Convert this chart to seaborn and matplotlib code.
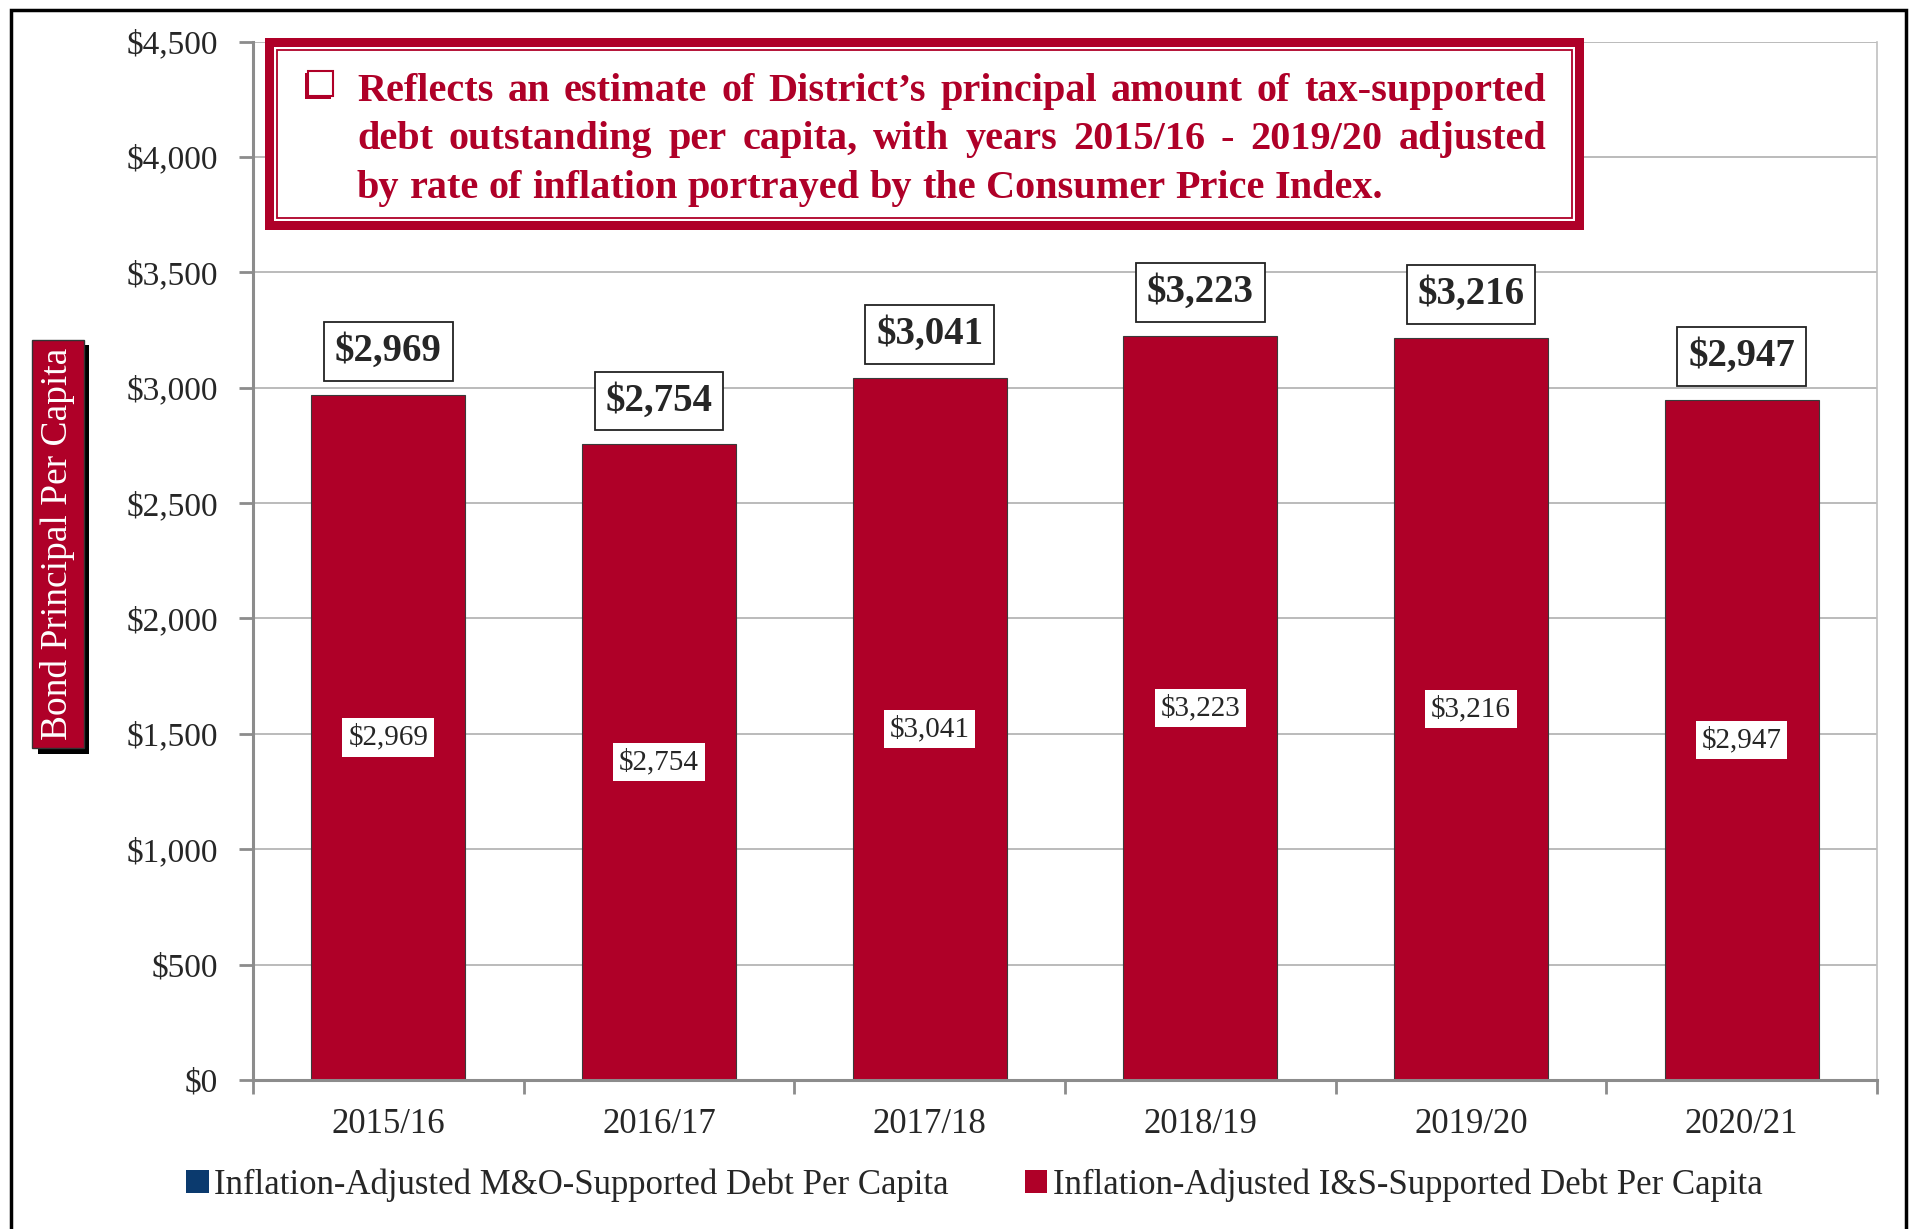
import matplotlib
matplotlib.use('Agg')
import matplotlib.pyplot as plt
import seaborn as sns
import pandas as pd
from matplotlib.patches import Rectangle, Patch
from matplotlib import patheffects as pe
from matplotlib.ticker import FuncFormatter, FixedLocator

# chart data
years = ['2015/16', '2016/17', '2017/18', '2018/19', '2019/20', '2020/21']
is_debt = [2969, 2754, 3041, 3223, 3216, 2947]
mo_debt = [0, 0, 0, 0, 0, 0]
y_ticks = [0, 500, 1000, 1500, 2000, 2500, 3000, 3500, 4000, 4500]
legend_labels = ['Inflation-Adjusted M&O-Supported Debt Per Capita',
                 'Inflation-Adjusted I&S-Supported Debt Per Capita']
y_label = 'Bond Principal Per Capita'
note_lines = [
    'Reflects an estimate of District\u2019s principal amount of tax-supported',
    'debt outstanding per capita, with years 2015/16 - 2019/20 adjusted',
    'by rate of inflation portrayed by the Consumer Price Index.',
]

CRIMSON = '#AF0028'
NAVY = '#0B3A6E'
W, H = 1915, 1229


def fx(px):
    return px / W


def fy(py):
    return 1 - py / H


sns.set_style('white')
plt.rcParams['font.family'] = ['Liberation Serif', 'DejaVu Serif']

fig = plt.figure(figsize=(W / 100, H / 100), dpi=100)
ax = fig.add_axes([fx(253), fy(1080), fx(1877) - fx(253), fy(41.5) - fy(1080)])

df = pd.DataFrame({'year': years, 'is_debt': is_debt})
sns.barplot(data=df, x='year', y='is_debt', color=CRIMSON, saturation=1,
            width=0.57, edgecolor='#3a3a3a', linewidth=0.8, ax=ax)

bars = ax.containers[0]
labels = [f'${v:,}' for v in is_debt]
ax.bar_label(bars, labels=labels, label_type='center', fontsize=21,
             bbox=dict(boxstyle='square,pad=0.2', fc='white', ec='none'))
ax.bar_label(bars, labels=labels, padding=18, fontsize=28, fontweight='bold',
             bbox=dict(boxstyle='square,pad=0.28', fc='white', ec='#222222', lw=1.3))

# axes styling
ax.set_ylim(0, 4500)
ax.set_xlim(-0.5, 5.5)
ax.yaxis.set_major_locator(FixedLocator(y_ticks))
ax.yaxis.set_major_formatter(FuncFormatter(lambda v, p: f'${v:,.0f}'))
ax.grid(axis='y', color='#b5b5b5', lw=1.3)
ax.set_axisbelow(True)
ax.tick_params(axis='y', left=True, length=10, width=2, color='#8c8c8c',
               pad=15, labelsize=24)
ax.tick_params(axis='x', which='major', bottom=False, length=0, pad=20, labelsize=25)
ax.set_xticks([i - 0.5 for i in range(7)], minor=True)
ax.tick_params(axis='x', which='minor', bottom=True, length=10, width=2, color='#8c8c8c')
ax.set_xlabel('')
ax.set_ylabel('')
for side in ['left', 'bottom']:
    ax.spines[side].set_color('#8c8c8c')
    ax.spines[side].set_linewidth(2.2)
ax.spines['right'].set_color('#c0c0c0')
ax.spines['right'].set_linewidth(1.2)
ax.spines['top'].set_visible(False)

# y axis label in a red box with shadow
ylab = fig.text(fx(58), fy(544), y_label, rotation=90, color='white', fontsize=27,
                ha='center', va='center',
                bbox=dict(boxstyle='square,pad=0.22', fc=CRIMSON, ec='#333333', lw=1))
ylab.get_bbox_patch().set_path_effects([
    pe.SimplePatchShadow(offset=(4, -4), shadow_rgbFace='black', alpha=1.0),
    pe.Normal()])

# note box with double red border
bx0, bx1, by0, by1 = 265, 1584, 38, 230
fig.patches.append(Rectangle((fx(bx0), fy(by1)), fx(bx1) - fx(bx0), fy(by0) - fy(by1),
                             transform=fig.transFigure, fc=CRIMSON, ec='none', zorder=5))
fig.patches.append(Rectangle((fx(bx0 + 9), fy(by1 - 9)), fx(bx1 - 9) - fx(bx0 + 9),
                             fy(by0 + 9) - fy(by1 - 9),
                             transform=fig.transFigure, fc='white', ec='none', zorder=5))
fig.patches.append(Rectangle((fx(bx0 + 12), fy(by1 - 12)), fx(bx1 - 12) - fx(bx0 + 12),
                             fy(by0 + 12) - fy(by1 - 12),
                             transform=fig.transFigure, fc='none', ec=CRIMSON, lw=1.3, zorder=5))

# bullet square with shadow
fig.patches.append(Rectangle((fx(305), fy(99)), fx(331) - fx(305), fy(73) - fy(99),
                             transform=fig.transFigure, fc=CRIMSON, ec='none', zorder=6))
fig.patches.append(Rectangle((fx(308), fy(96)), fx(333) - fx(308), fy(71) - fy(96),
                             transform=fig.transFigure, fc='white', ec=CRIMSON, lw=1.5, zorder=7))

# justified note text
renderer = fig.canvas.get_renderer()
note_size = 29
baselines = [101, 149, 198]
tx0, tx1 = 357, 1546
for i, line in enumerate(note_lines):
    words = line.split(' ')
    texts = [fig.text(0, fy(baselines[i]), w, color=CRIMSON, fontsize=note_size,
                      fontweight='bold', va='baseline', ha='left', zorder=8)
             for w in words]
    widths = [t.get_window_extent(renderer).width for t in texts]
    if i < len(note_lines) - 1:
        gap = (tx1 - tx0 - sum(widths)) / (len(words) - 1)
    else:
        gap = 0.25 * note_size * 100 / 72
    x = tx0
    for t, wd in zip(texts, widths):
        t.set_x(fx(x))
        x += wd + gap

# legend
handles = [Patch(fc=NAVY, ec='none'), Patch(fc=CRIMSON, ec='none')]
fig.legend(handles, legend_labels, loc='center left', bbox_to_anchor=(fx(186), fy(1185)),
           ncol=2, frameon=False, fontsize=25, handlelength=0.65, handleheight=0.65,
           handletextpad=0.15, columnspacing=2.2, borderaxespad=0, borderpad=0)

# outer frame
fig.patches.append(Rectangle((fx(11), -0.05), fx(1906) - fx(11), fy(10) + 0.05,
                             transform=fig.transFigure, fill=False, ec='black', lw=2.5,
                             zorder=10, clip_on=False))

plt.savefig('out.png', dpi=100)
